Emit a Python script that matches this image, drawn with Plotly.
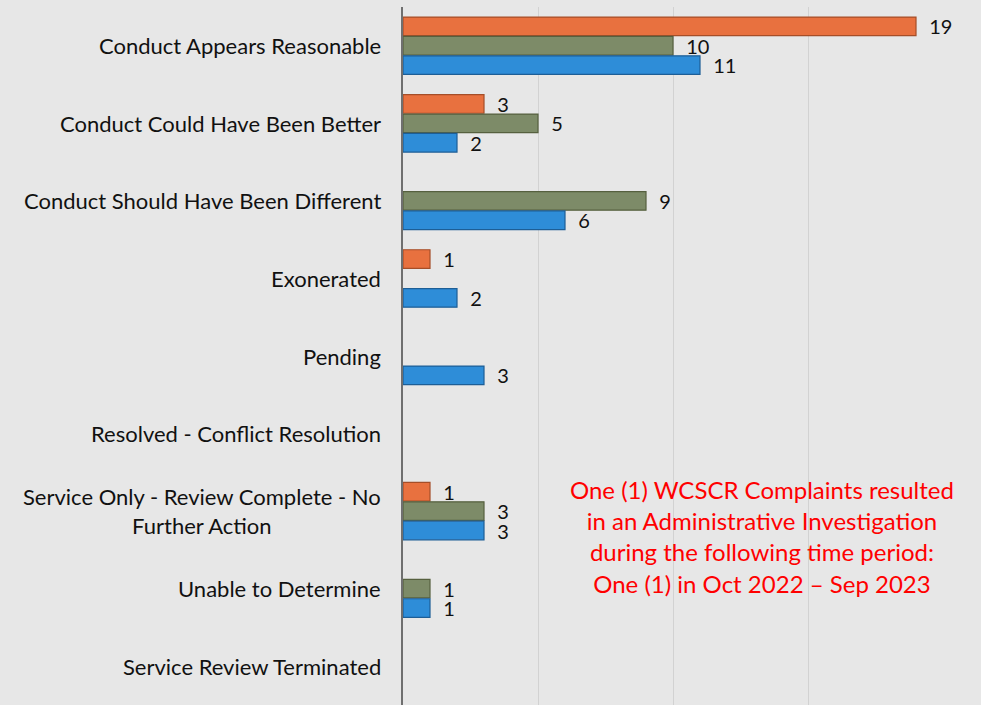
import plotly.graph_objects as go

categories = [
    "Conduct Appears Reasonable",
    "Conduct Could Have Been Better",
    "Conduct Should Have Been Different",
    "Exonerated",
    "Pending",
    "Resolved - Conflict Resolution",
    "Service Only - Review Complete - No<br>Further Action",
    "Unable to Determine",
    "Service Review Terminated",
]
series_orange = [19, 3, None, 1, None, None, 1, None, None]
series_green = [10, 5, 9, None, None, None, 3, 1, None]
series_blue = [11, 2, 6, 2, 3, None, 3, 1, None]
series_names = ["Series A", "Series B", "Series C"]

note_text = ("One (1) WCSCR Complaints resulted<br>in an Administrative Investigation<br>"
             "during the following time period:<br>One (1) in Oct 2022 \u2013 Sep 2023")

font_family = "Lato, 'Open Sans', sans-serif"

def labels(vals):
    return [("" if v is None else "  " + str(v)) for v in vals]

fig = go.Figure()
for name, vals, fill, edge in [
    (series_names[0], series_orange, "#E8713F", "#A54E28"),
    (series_names[1], series_green, "#7D8B68", "#56603F"),
    (series_names[2], series_blue, "#2E8DD8", "#1D5E96"),
]:
    fig.add_trace(go.Bar(
        y=categories, x=vals, name=name, orientation="h",
        marker=dict(color=fill, line=dict(color=edge, width=1.2)),
        text=labels(vals), textposition="outside", constraintext="none",
        cliponaxis=False, hoverinfo="skip",
        textfont=dict(family=font_family, size=20, color="#111111"),
    ))

for c in categories:
    fig.add_annotation(
        x=0, y=c, xref="x", yref="y", text=c, showarrow=False,
        xanchor="right", yanchor="middle", align="center", xshift=-20,
        font=dict(family=font_family, size=22, color="#111111"),
    )

fig.add_annotation(
    x=0.665, y=0.242, xref="paper", yref="paper", text=note_text, showarrow=False,
    align="center", xanchor="center", yanchor="middle",
    font=dict(family=font_family, size=24, color="#FF0000"),
)

fig.update_layout(
    width=981, height=705,
    margin=dict(l=403, r=38, t=7, b=0),
    paper_bgcolor="#e7e7e7", plot_bgcolor="rgba(0,0,0,0)",
    barmode="group", bargap=0.25, bargroupgap=0.04,
    showlegend=False,
    xaxis=dict(range=[0, 20], tickvals=[5, 10, 15], showticklabels=False,
               showgrid=True, gridcolor="#d2d2d2", gridwidth=1, zeroline=False,
               showline=False, fixedrange=True),
    yaxis=dict(autorange="reversed", showticklabels=False, showgrid=False,
               showline=True, linecolor="#6f6f6f", linewidth=2, ticks="",
               fixedrange=True),
)

fig.write_html("out.html", config={"displayModeBar": False},
               post_script="document.body.style.margin='0';document.body.style.overflow='hidden';")
